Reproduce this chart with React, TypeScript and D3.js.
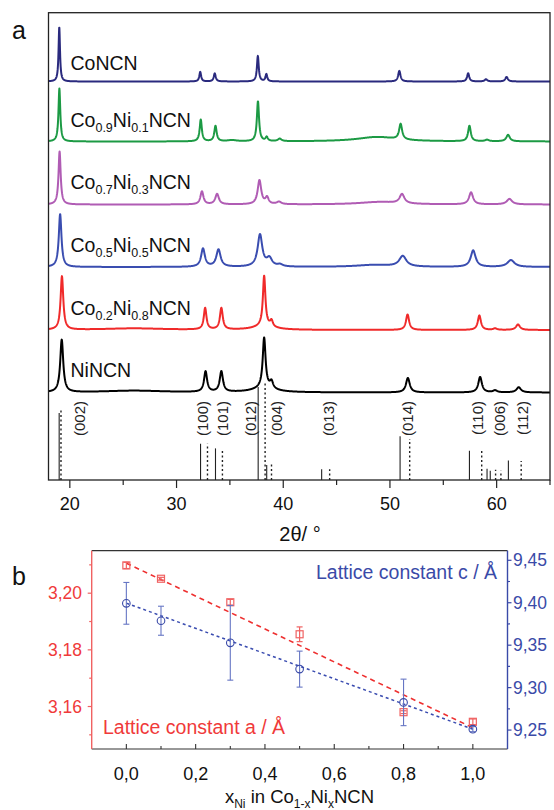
import React from 'react';
import * as d3 from 'd3';

// ---------- Panel a data ----------
const sampleKeys = ['CoNCN', 'Co09', 'Co07', 'Co05', 'Co02', 'NiNCN'];
const sampleColors = ['#2a2a7e', '#1c9a44', '#b05cb4', '#3a4db0', '#f02a2a', '#000000'];
const sampleOffsets = [398.5, 338.5, 275.5, 213, 150, 87.5];
// label segments: [text, isSubscript]
const sampleLabels: [string, boolean][][] = [
  [['CoNCN', false]],
  [['Co', false], ['0.9', true], ['Ni', false], ['0.1', true], ['NCN', false]],
  [['Co', false], ['0.7', true], ['Ni', false], ['0.3', true], ['NCN', false]],
  [['Co', false], ['0.5', true], ['Ni', false], ['0.5', true], ['NCN', false]],
  [['Co', false], ['0.2', true], ['Ni', false], ['0.8', true], ['NCN', false]],
  [['NiNCN', false]],
];
const labelBaselines = [70, 127, 189, 252, 314.5, 377];

// peaks: [2theta, height, fwhm]
const peaksCoNCN = [[19.01, 54.5, 0.16], [32.22, 9.6, 0.2], [33.58, 8.1, 0.22], [37.62, 25.5, 0.2], [38.42, 7.2, 0.2], [50.88, 10.6, 0.26], [57.33, 8.3, 0.24], [59.0, 2.2, 0.3], [60.93, 4.6, 0.28]];
const peaksCo09 = [[19.02, 53, 0.2], [32.27, 21.8, 0.24], [33.65, 15.5, 0.26], [37.63, 40, 0.24], [38.45, 4, 0.25], [39.67, 2.5, 0.4], [35.2, 1.2, 1.0], [48.8, 4.5, 4.5], [51.0, 15.5, 0.34], [57.45, 15.5, 0.3], [59.1, 1.5, 0.4], [61.07, 6.5, 0.4]];
const peaksCo07 = [[19.04, 53, 0.24], [32.38, 13, 0.34], [33.8, 10.4, 0.4], [37.77, 24, 0.4], [38.48, 6.5, 0.35], [39.6, 2.5, 0.5], [49.0, 2.5, 4.5], [51.13, 9.3, 0.55], [57.6, 12, 0.45], [61.2, 5.5, 0.6]];
const peaksCo05 = [[19.09, 53, 0.3], [32.48, 18.2, 0.42], [33.93, 17.2, 0.48], [37.82, 32, 0.52], [38.7, 8, 0.6], [39.7, 2, 0.6], [48.5, 2, 4], [51.2, 10.5, 0.8], [57.8, 16.5, 0.55], [61.34, 6.8, 0.8]];
const peaksCo02 = [[19.26, 53.5, 0.3], [26.0, 1.6, 7], [32.68, 21.5, 0.3], [34.2, 21.5, 0.32], [38.21, 50, 0.28], [38.2, 4, 2.2], [38.9, 6, 0.3], [51.65, 15.5, 0.35], [58.38, 14.5, 0.35], [59.85, 1.5, 0.4], [62.0, 5.5, 0.45]];
const peaksNiNCN = [[19.24, 52.5, 0.34], [26.0, 1.8, 7], [32.72, 20.5, 0.34], [34.2, 20.5, 0.36], [38.21, 50, 0.32], [38.2, 4.5, 2.4], [38.9, 7, 0.35], [51.68, 14.5, 0.42], [58.45, 15.5, 0.4], [59.85, 2, 0.45], [62.07, 5.2, 0.5]];
const allPeaks = [peaksCoNCN, peaksCo09, peaksCo07, peaksCo05, peaksCo02, peaksNiNCN];

// reference patterns (relative intensity %)
const refCoTheta = [19.0, 32.25, 33.65, 37.65, 38.45, 43.6, 50.95, 57.45, 59.1, 59.4, 61.1];
const refCoInt = [72, 39, 34, 100, 16, 11.5, 47, 31.5, 12, 10, 21];
const refNiTheta = [19.17, 32.9, 34.3, 38.3, 38.9, 44.35, 51.85, 58.6, 59.9, 60.4, 62.3];
const refNiInt = [76, 39, 34, 104, 18, 11.5, 44, 32, 11, 10, 20.5];
const hklLabels = ['(002)', '(100)', '(101)', '(012)', '(004)', '(013)', '(014)', '(110)', '(006)', '(112)'];
const hklTheta = [20.95, 32.4, 34.3, 36.95, 39.4, 44.2, 51.6, 58.25, 60.25, 62.45];

const thetaMajor = [20, 30, 40, 50, 60];
const thetaMinor = [25, 35, 45, 55, 65];

// ---------- Panel b data ----------
const xNi = [0, 0.1, 0.3, 0.5, 0.8, 1.0];
const latticeA = [3.2098, 3.2051, 3.1968, 3.1855, 3.158, 3.1546];
const latticeAErr = [0.0011, 0.0005, 0.001, 0.0026, 0.0005, 0.001];
const latticeC = [9.3993, 9.3788, 9.3528, 9.3218, 9.2826, 9.2511];
const latticeCErr = [0.0246, 0.0171, 0.044, 0.0212, 0.0274, 0.003];
const fitX = [0, 1.0];
const fitA = [3.2106, 3.1525];
const fitC = [9.3995, 9.251];
const xTicks = [0, 0.2, 0.4, 0.6, 0.8, 1.0];
const xMinorTicks = [0.1, 0.3, 0.5, 0.7, 0.9];
const aTicks = [3.16, 3.18, 3.2];
const aMinorTicks = [3.15, 3.17, 3.19, 3.21];
const cTicks = [9.25, 9.3, 9.35, 9.4, 9.45];
const cMinorTicks = [9.275, 9.325, 9.375, 9.425];

const FONT = 'Liberation Sans, Arial, Helvetica, sans-serif';
const RED = '#f03a3a';
const RED_LIGHT = '#f06262';
const BLUE = '#3a4aa8';
const BLUE_LIGHT = '#6676c4';

const lorentz = (t: number, peaks: number[][]) =>
  peaks.reduce((s, [c, h, w]) => s + h / (1 + ((t - c) / (w / 2)) ** 2), 0);

const comma = (v: number, d: number) => v.toFixed(d).replace('.', ',');

export default function App() {
  // panel a scales
  const ax = d3.scaleLinear().domain([18, 65]).range([48.5, 550]);
  const ay = d3.scaleLinear().domain([0, 467.3]).range([480, 12.7]);
  const refY = d3.scaleLinear().domain([0, 100]).range([480, 387]);
  const grid = d3.range(18, 65.0001, 0.02);
  const line = d3.line<[number, number]>().x((d) => ax(d[0])).y((d) => ay(d[1]));

  // panel b scales
  const bx = d3.scaleLinear().domain([-0.1, 1.1]).range([91.7, 507.5]);
  const byA = d3.scaleLinear().domain([3.145, 3.215]).range([749, 550.7]);
  const byC = d3.scaleLinear().domain([9.2277, 9.4613]).range([749, 550.7]);
  const bTop = 550.7, bBot = 749, bL = 91.7, bR = 507.5;

  return (
    <svg width={554} height={810} style={{ display: 'block', position: 'absolute', left: 0, top: 0 }} fontFamily={FONT}>
      <rect x={0} y={0} width={554} height={810} fill="#fff" />
      {/* ---- Panel a ---- */}
      <text x={12} y={39} fontSize={25} fill="#111">a</text>
      {allPeaks.map((pk, i) => {
        const pts: [number, number][] = grid.map((t) => [t, sampleOffsets[i] + lorentz(t, pk)]);
        return <path key={sampleKeys[i]} d={line(pts) || ''} fill="none" stroke={sampleColors[i]} strokeWidth={2} strokeLinejoin="round" />;
      })}
      {sampleLabels.map((segs, i) => (
        <text key={'lab' + i} x={70.5} y={labelBaselines[i]} fontSize={19.5} fill="#111">
          {segs.map(([s, sub], j) => (
            <tspan key={j} fontSize={sub ? 12.5 : 19.5} dy={sub ? 5 : (j > 0 && segs[j - 1][1] ? -5 : 0)}>{s}</tspan>
          ))}
        </text>
      ))}
      {refCoTheta.map((t, i) => (
        <line key={'rc' + i} x1={ax(t)} x2={ax(t)} y1={refY(0)} y2={refY(refCoInt[i])} stroke="#222" strokeWidth={1.1} />
      ))}
      {refNiTheta.map((t, i) => (
        <line key={'rn' + i} x1={ax(t)} x2={ax(t)} y1={refY(0)} y2={refY(refNiInt[i])} stroke="#222" strokeWidth={1.4} strokeDasharray="2,2.5" />
      ))}
      {hklLabels.map((l, i) => (
        <text key={'hkl' + i} transform={`translate(${ax(hklTheta[i])},401) rotate(-90)`} textAnchor="end" dominantBaseline="central" fontSize={15} fill="#222">{l}</text>
      ))}
      <rect x={ax(18)} y={ay(467.3)} width={ax(65) - ax(18)} height={ay(0) - ay(467.3)} fill="none" stroke="#222" strokeWidth={1.3} />
      {thetaMajor.map((t) => (
        <g key={'tm' + t}>
          <line x1={ax(t)} x2={ax(t)} y1={480} y2={488} stroke="#222" strokeWidth={1.2} />
          <text x={ax(t)} y={509.5} textAnchor="middle" fontSize={18} fill="#111">{t}</text>
        </g>
      ))}
      {thetaMinor.map((t) => (
        <line key={'tn' + t} x1={ax(t)} x2={ax(t)} y1={480} y2={485} stroke="#222" strokeWidth={1.2} />
      ))}
      <text x={300} y={541} textAnchor="middle" fontSize={20} fill="#111">2θ/ °</text>

      {/* ---- Panel b ---- */}
      <text x={12} y={585} fontSize={25} fill="#111">b</text>
      <line x1={bL} x2={bR} y1={bTop} y2={bTop} stroke="#333" strokeWidth={1.2} />
      <line x1={bL} x2={bR} y1={bBot} y2={bBot} stroke="#333" strokeWidth={1.2} />
      <line x1={bL} x2={bL} y1={bTop} y2={bBot} stroke={RED_LIGHT} strokeWidth={1.4} />
      <line x1={bR} x2={bR} y1={bTop} y2={bBot} stroke={BLUE} strokeWidth={1.4} />
      {xTicks.map((v) => (
        <g key={'bx' + v}>
          <line x1={bx(v)} x2={bx(v)} y1={bBot} y2={bBot - 5} stroke="#333" strokeWidth={1.1} />
          <text x={bx(v)} y={779.5} textAnchor="middle" fontSize={18} fill="#111">{comma(v, 1)}</text>
        </g>
      ))}
      {xMinorTicks.map((v) => (
        <line key={'bxm' + v} x1={bx(v)} x2={bx(v)} y1={bBot} y2={bBot - 3} stroke="#333" strokeWidth={1.1} />
      ))}
      {aTicks.map((v) => (
        <g key={'ba' + v}>
          <line x1={bL} x2={bL - 4} y1={byA(v)} y2={byA(v)} stroke={RED_LIGHT} strokeWidth={1.2} />
          <text x={82} y={byA(v) + 6} textAnchor="end" fontSize={17.5} fill={RED}>{comma(v, 2)}</text>
        </g>
      ))}
      {aMinorTicks.map((v) => (
        <line key={'bam' + v} x1={bL} x2={bL - 2.5} y1={byA(v)} y2={byA(v)} stroke={RED_LIGHT} strokeWidth={1.2} />
      ))}
      {cTicks.map((v) => (
        <g key={'bc' + v}>
          <line x1={bR} x2={bR + 4} y1={byC(v)} y2={byC(v)} stroke={BLUE} strokeWidth={1.2} />
          <text x={513} y={byC(v) + 6} textAnchor="start" fontSize={17.5} fill={BLUE}>{comma(v, 2)}</text>
        </g>
      ))}
      {cMinorTicks.map((v) => (
        <line key={'bcm' + v} x1={bR} x2={bR + 2.5} y1={byC(v)} y2={byC(v)} stroke={BLUE} strokeWidth={1.2} />
      ))}
      {/* fits */}
      <line x1={bx(fitX[0])} x2={bx(fitX[1])} y1={byA(fitA[0])} y2={byA(fitA[1])} stroke="#ee3030" strokeWidth={1.6} strokeDasharray="5,4" />
      <line x1={bx(fitX[0])} x2={bx(fitX[1])} y1={byC(fitC[0])} y2={byC(fitC[1])} stroke="#3a4cb0" strokeWidth={1.5} strokeDasharray="3,3" />
      {/* a data */}
      {xNi.map((x, i) => (
        <g key={'pa' + i} stroke={RED_LIGHT} strokeWidth={1.2} fill="none">
          <line x1={bx(x)} x2={bx(x)} y1={byA(latticeA[i] - latticeAErr[i])} y2={byA(latticeA[i] + latticeAErr[i])} />
          <line x1={bx(x) - 3} x2={bx(x) + 3} y1={byA(latticeA[i] + latticeAErr[i])} y2={byA(latticeA[i] + latticeAErr[i])} />
          <line x1={bx(x) - 3} x2={bx(x) + 3} y1={byA(latticeA[i] - latticeAErr[i])} y2={byA(latticeA[i] - latticeAErr[i])} />
          <rect x={bx(x) - 3.5} y={byA(latticeA[i]) - 3.5} width={7} height={7} fill="#fff" fillOpacity={0} />
        </g>
      ))}
      {/* c data */}
      {xNi.map((x, i) => (
        <g key={'pc' + i} stroke={BLUE_LIGHT} strokeWidth={1.1} fill="none">
          <line x1={bx(x)} x2={bx(x)} y1={byC(latticeC[i] - latticeCErr[i])} y2={byC(latticeC[i] + latticeCErr[i])} />
          <line x1={bx(x) - 3} x2={bx(x) + 3} y1={byC(latticeC[i] + latticeCErr[i])} y2={byC(latticeC[i] + latticeCErr[i])} />
          <line x1={bx(x) - 3} x2={bx(x) + 3} y1={byC(latticeC[i] - latticeCErr[i])} y2={byC(latticeC[i] - latticeCErr[i])} />
          <circle cx={bx(x)} cy={byC(latticeC[i])} r={3.8} stroke={BLUE} fill="none" />
        </g>
      ))}
      <text x={497} y={578.5} textAnchor="end" fontSize={19.5} fill={BLUE}>Lattice constant c / Å</text>
      <text x={103} y={733.5} textAnchor="start" fontSize={19.5} fill={RED}>Lattice constant a / Å</text>
      <text x={299.5} y={802.5} textAnchor="middle" fontSize={18.5} fill="#111">
        <tspan>x</tspan>
        <tspan fontSize={12} dy={5}>Ni</tspan>
        <tspan dy={-5}> in Co</tspan>
        <tspan fontSize={12} dy={5}>1-x</tspan>
        <tspan dy={-5}>Ni</tspan>
        <tspan fontSize={12} dy={5}>x</tspan>
        <tspan dy={-5}>NCN</tspan>
      </text>
    </svg>
  );
}
